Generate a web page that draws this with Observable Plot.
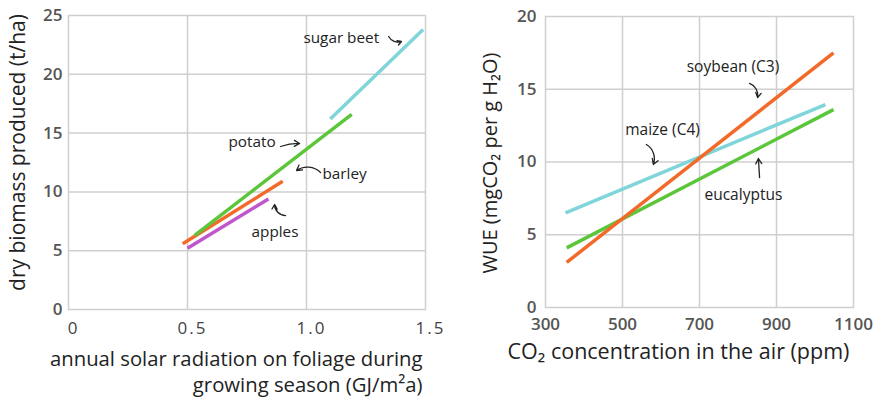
<!DOCTYPE html>
<html>
<head>
<meta charset="utf-8">
<script src="https://cdn.jsdelivr.net/npm/d3@7"></script>
<script src="https://cdn.jsdelivr.net/npm/@observablehq/plot@0.6"></script>
<style>
  body { margin: 0; background: #fff; }
  #wrap { position: relative; width: 882px; height: 403px; overflow: hidden; background: #fff; }
  #left, #right { position: absolute; top: 0; }
  #left { left: 0; }
  #right { left: 440px; }
  svg { font-family: "Open Sans", sans-serif; }
</style>
</head>
<body>
<div id="wrap"><div id="left"></div><div id="right"></div></div>
<script>
// ---------- Left chart data ----------
const leftCrops  = ["apples", "barley", "potato", "sugar beet"];
const leftX1     = [0.50, 0.48, 0.53, 1.10];
const leftY1     = [5.2, 5.6, 6.3, 16.2];
const leftX2     = [0.84, 0.90, 1.19, 1.49];
const leftY2     = [9.4, 10.9, 16.6, 23.8];
const leftColors = ["#c155cc", "#f26a2a", "#5cc63a", "#7fd5da"];
const leftXTicks = [0, 0.5, 1.0, 1.5];
const leftYTicks = [0, 5, 10, 15, 20, 25];

const leftLabelText = ["sugar beet", "potato", "barley", "apples"];
const leftLabelX    = [0.987, 0.672, 1.067, 0.769];
const leftLabelY    = [23.1, 14.2, 11.48, 6.55];
const leftArrowX1   = [1.345, 0.891, 1.059, 0.912];
const leftArrowY1   = [23.21, 13.86, 11.65, 7.99];
const leftArrowX2   = [1.399, 0.971, 0.958, 0.866];
const leftArrowY2   = [22.79, 14.12, 11.82, 8.93];
const leftArrowBend = [-40, 10, -40, 45];

// ---------- Right chart data ----------
const rightCrops  = ["maize (C4)", "eucalyptus", "soybean (C3)"];
const rightX1     = [352, 355, 355];
const rightY1     = [6.5, 4.1, 3.1];
const rightX2     = [1027, 1048, 1048];
const rightY2     = [13.95, 13.6, 17.5];
const rightColors = ["#7fd5da", "#5cc63a", "#f26a2a"];
const rightXTicks = [300, 500, 700, 900, 1100];
const rightYTicks = [0, 5, 10, 15, 20];

const rightLabelText = ["soybean (C3)", "maize (C4)", "eucalyptus"];
const rightLabelX    = [787, 604, 814];
const rightLabelY    = [16.5, 12.23, 7.7];
const rightArrowX1   = [830, 562, 856];
const rightArrowY1   = [15.4, 11.2, 8.93];
const rightArrowX2   = [851, 580, 853];
const rightArrowY2   = [14.43, 9.83, 10.24];
const rightArrowBend = [40, 40, 0];

const gridColor = "#cfcfcf";
const tickFill = "#555";

function rows(n, f) { return d3.range(n).map(f); }

// ---------- Left plot ----------
const leftLines = rows(leftCrops.length, i => ({crop: leftCrops[i], x1: leftX1[i], y1: leftY1[i], x2: leftX2[i], y2: leftY2[i], c: leftColors[i]}));
const leftLabels = rows(leftLabelText.length, i => ({t: leftLabelText[i], x: leftLabelX[i], y: leftLabelY[i]}));
const leftArrows = rows(leftArrowX1.length, i => ({x1: leftArrowX1[i], y1: leftArrowY1[i], x2: leftArrowX2[i], y2: leftArrowY2[i], b: leftArrowBend[i]}));

const leftPlot = Plot.plot({
  width: 455, height: 403,
  marginLeft: 68, marginRight: 30, marginTop: 15, marginBottom: 94,
  style: {background: "transparent"},
  x: {domain: [0, 1.5]},
  y: {domain: [0, 25]},
  marks: [
    Plot.gridX(leftXTicks.filter(d => d > 0 && d < 1.5), {stroke: gridColor, strokeOpacity: 1, strokeWidth: 1.5}),
    Plot.gridY(leftYTicks.filter(d => d > 0 && d < 25), {stroke: gridColor, strokeOpacity: 1, strokeWidth: 1.5}),
    Plot.frame({stroke: gridColor, strokeWidth: 1.5}),
    Plot.axisX(leftXTicks, {tickSize: 0, tickPadding: 12, fontSize: 17, fill: "#444", dx: 5, label: null,
      tickFormat: d => d === 0 ? "0" : d.toFixed(1)}),
    Plot.axisY(leftYTicks, {tickSize: 0, tickPadding: 6, fontSize: 17, fontWeight: 600, fill: tickFill, label: null}),
    ...leftLines.map(d => Plot.link([d], {x1: "x1", y1: "y1", x2: "x2", y2: "y2", stroke: d.c, strokeWidth: 3.5, strokeLinecap: "butt"})),
    Plot.text(leftLabels, {x: "x", y: "y", text: "t", textAnchor: "start", fontSize: 15.3, fill: "#222"}),
    ...leftArrows.map(d => Plot.arrow([d], {x1: "x1", y1: "y1", x2: "x2", y2: "y2", bend: d.b, stroke: "#222", strokeWidth: 1.3, headLength: 7})),
    Plot.text(["dry biomass produced (t/ha)"], {frameAnchor: "left", textAnchor: "middle", rotate: -90, dx: -50, dy: -10, fontSize: 21, fill: "#222"}),
    Plot.text(["annual solar radiation on foliage during\ngrowing season (GJ/m²a)"], {frameAnchor: "bottom-right", textAnchor: "end", lineAnchor: "middle", lineHeight: 1.3, dx: -3, dy: 61, fontSize: 20.3, fill: "#222"})
  ]
});
d3.select(leftPlot).selectAll('[aria-label="x-axis tick label"]').style("letter-spacing", "2px");
document.getElementById("left").appendChild(leftPlot);

// ---------- Right plot ----------
const rightLines = rows(rightCrops.length, i => ({crop: rightCrops[i], x1: rightX1[i], y1: rightY1[i], x2: rightX2[i], y2: rightY2[i], c: rightColors[i]}));
const rightLabels = rows(rightLabelText.length, i => ({t: rightLabelText[i], x: rightLabelX[i], y: rightLabelY[i]}));
const rightArrows = rows(rightArrowX1.length, i => ({x1: rightArrowX1[i], y1: rightArrowY1[i], x2: rightArrowX2[i], y2: rightArrowY2[i], b: rightArrowBend[i]}));

const rightPlot = Plot.plot({
  width: 442, height: 403,
  marginLeft: 105, marginRight: 29, marginTop: 16, marginBottom: 96,
  style: {background: "transparent"},
  x: {domain: [300, 1100]},
  y: {domain: [0, 20]},
  marks: [
    Plot.gridX(rightXTicks.filter(d => d > 300 && d < 1100), {stroke: gridColor, strokeOpacity: 1, strokeWidth: 1.5}),
    Plot.gridY(rightYTicks.filter(d => d > 0 && d < 20), {stroke: gridColor, strokeOpacity: 1, strokeWidth: 1.5}),
    Plot.frame({stroke: gridColor, strokeWidth: 1.5}),
    Plot.axisX(rightXTicks, {tickSize: 0, tickPadding: 10, fontSize: 17, fontWeight: 600, fill: tickFill, label: null, tickFormat: d => String(d)}),
    Plot.axisY(rightYTicks, {tickSize: 0, tickPadding: 9, fontSize: 17, fontWeight: 600, fill: tickFill, label: null}),
    ...rightLines.map(d => Plot.link([d], {x1: "x1", y1: "y1", x2: "x2", y2: "y2", stroke: d.c, strokeWidth: 3.5, strokeLinecap: "butt"})),
    Plot.text(rightLabels, {x: "x", y: "y", text: "t", textAnchor: "middle", fontSize: 15.5, fill: "#222"}),
    ...rightArrows.map(d => Plot.arrow([d], {x1: "x1", y1: "y1", x2: "x2", y2: "y2", bend: d.b, stroke: "#222", strokeWidth: 1.3, headLength: 7})),
    Plot.text(["WUE (mgCO₂ per g H₂O)"], {frameAnchor: "left", textAnchor: "middle", rotate: -90, dx: -55, dy: 1, fontSize: 20, fill: "#222"}),
    Plot.text(["CO₂ concentration in the air (ppm)"], {frameAnchor: "bottom", lineAnchor: "middle", dx: -21, dy: 45, fontSize: 21.5, fill: "#222"})
  ]
});
document.getElementById("right").appendChild(rightPlot);
</script>
</body>
</html>
